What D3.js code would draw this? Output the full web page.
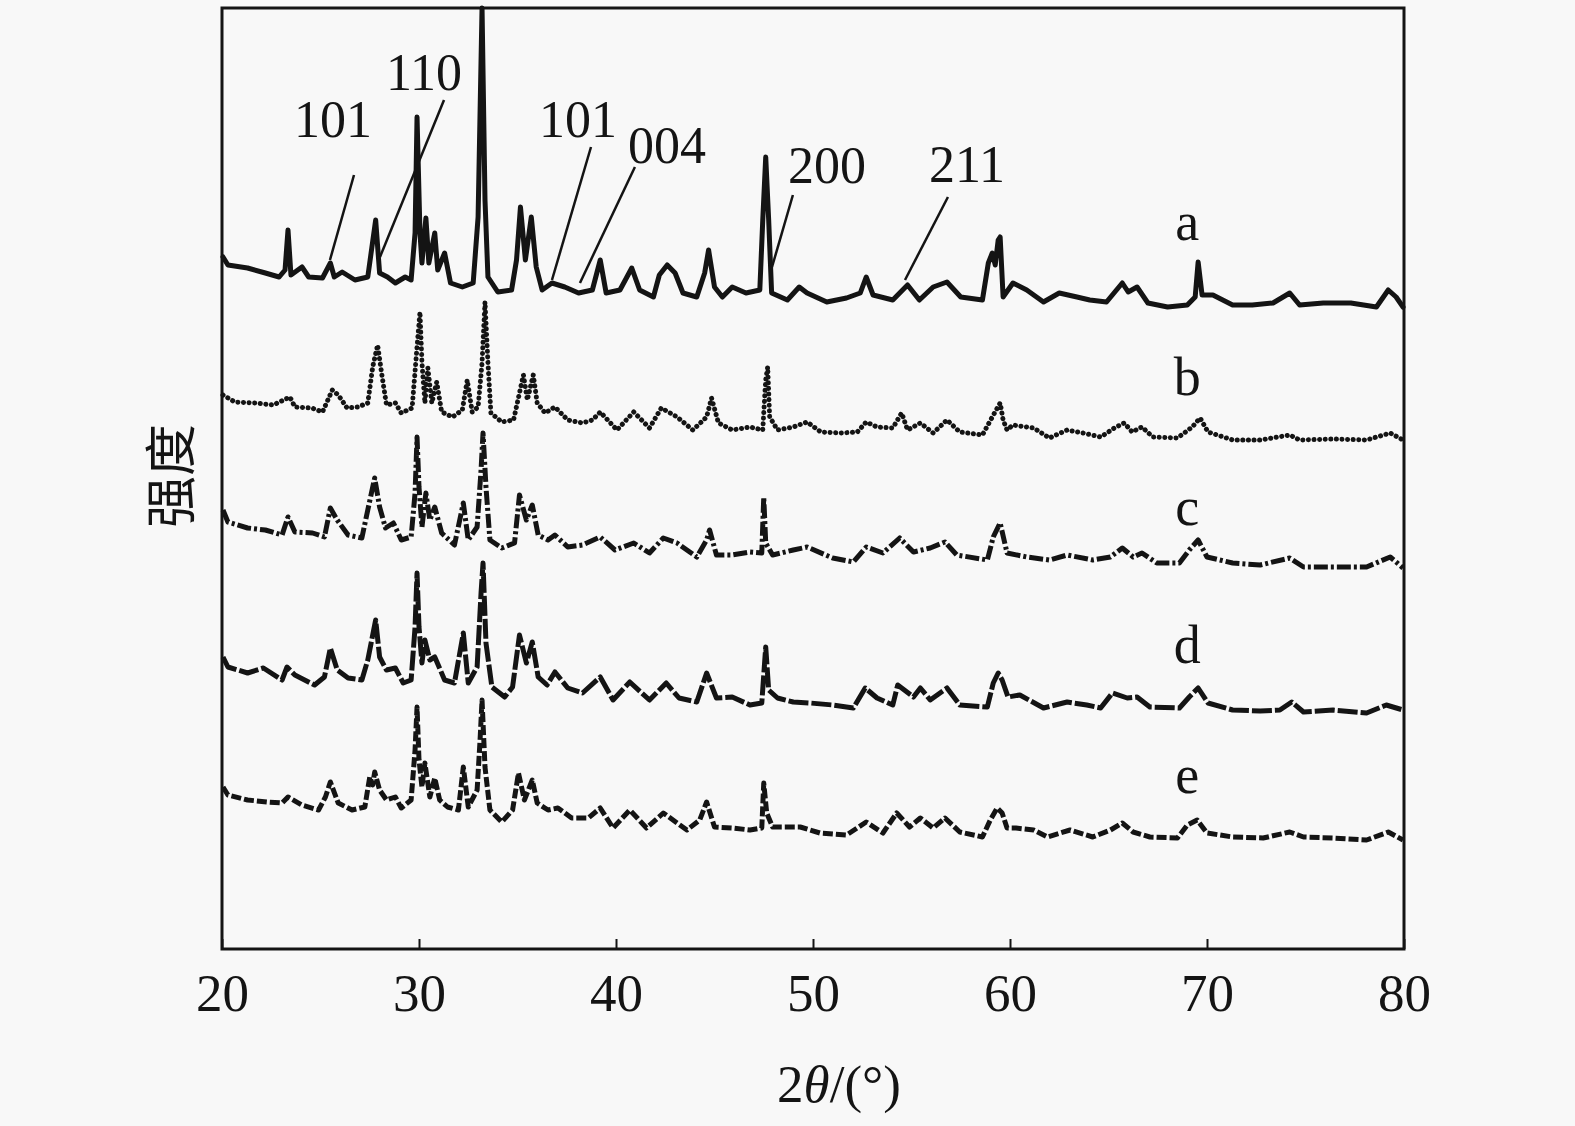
<!DOCTYPE html>
<html>
<head>
<meta charset="utf-8">
<script src="https://cdn.jsdelivr.net/npm/d3@7"></script>
<style>
  html, body { margin: 0; padding: 0; background: #f8f8f8; }
  svg { display: block; }
</style>
</head>
<body>
<script>
(function () {
  // 2θ (deg), intensity above each pattern's offset
  var seriesA = [
    [20.05, 53], [20.3, 45], [21.3, 42], [22.2, 37], [22.9, 33], [23.2, 40], [23.35, 80], [23.5, 35],
    [24.06, 43], [24.4, 33], [25.1, 32], [25.5, 47], [25.7, 33], [26.1, 38], [26.75, 30], [27.4, 33],
    [27.8, 90], [28.0, 37], [28.4, 33], [28.8, 27], [29.3, 33], [29.6, 30], [29.8, 77], [29.9, 193],
    [30.05, 77], [30.15, 47], [30.35, 92], [30.5, 47], [30.8, 77], [30.95, 40], [31.3, 57], [31.6, 27],
    [32.2, 23], [32.75, 27], [33.0, 93], [33.2, 302], [33.35, 110], [33.5, 33], [34.0, 18], [34.7, 20],
    [34.95, 50], [35.15, 103], [35.4, 50], [35.7, 93], [35.95, 43], [36.25, 20], [36.75, 27], [37.4, 23],
    [38.1, 17], [38.8, 20], [39.2, 50], [39.5, 17], [40.2, 20], [40.8, 42], [41.2, 20], [41.9, 13],
    [42.2, 35], [42.6, 45], [43.0, 37], [43.4, 17], [44.1, 13], [44.5, 37], [44.7, 60], [45.0, 23],
    [45.4, 13], [45.9, 23], [46.6, 17], [47.3, 20], [47.45, 90], [47.6, 153], [47.75, 90], [47.9, 17],
    [48.7, 10], [49.3, 23], [49.7, 17], [50.7, 8], [51.7, 12], [52.4, 17], [52.7, 33], [53.05, 15],
    [54.05, 10], [54.8, 25], [55.4, 10], [56.1, 23], [56.8, 28], [57.5, 13], [58.6, 10], [58.9, 47],
    [59.1, 57], [59.25, 45], [59.4, 70], [59.5, 73], [59.65, 13], [60.15, 27], [60.85, 20], [61.7, 8],
    [62.5, 17], [63.4, 13], [64.05, 10], [64.9, 8], [65.7, 27], [66.0, 18], [66.45, 23], [67.0, 7],
    [68.0, 3], [69.0, 5], [69.4, 13], [69.55, 48], [69.75, 15], [70.3, 15], [71.3, 5], [72.3, 5],
    [73.35, 7], [74.2, 17], [74.7, 5], [75.9, 7], [77.3, 7], [78.6, 3], [79.2, 20], [79.6, 13], [79.95, 3]
  ];
  var seriesB = [
    [20.05, 50], [20.65, 43], [21.7, 42], [22.6, 40], [23.45, 48], [23.7, 38], [24.55, 37], [25.1, 33],
    [25.6, 55], [25.9, 50], [26.35, 37], [26.9, 38], [27.4, 42], [27.65, 78], [27.9, 100], [28.1, 72],
    [28.35, 40], [28.8, 42], [29.1, 32], [29.65, 37], [29.9, 98], [30.05, 133], [30.15, 82], [30.3, 42],
    [30.45, 77], [30.65, 42], [30.9, 63], [31.15, 33], [31.7, 28], [32.2, 35], [32.45, 65], [32.7, 33],
    [33.0, 38], [33.2, 82], [33.35, 143], [33.5, 82], [33.65, 32], [34.2, 23], [34.8, 25], [35.1, 52],
    [35.3, 70], [35.5, 45], [35.8, 70], [36.0, 42], [36.4, 32], [36.9, 38], [37.55, 25], [38.3, 22],
    [38.8, 25], [39.2, 33], [40.05, 15], [40.9, 33], [41.7, 17], [42.3, 37], [43.1, 28], [43.9, 15],
    [44.6, 28], [44.85, 47], [45.2, 22], [45.9, 15], [46.8, 18], [47.45, 15], [47.6, 65], [47.7, 78],
    [47.8, 28], [48.2, 15], [49.0, 18], [49.7, 23], [50.4, 13], [51.4, 12], [52.25, 13], [52.7, 23],
    [53.25, 18], [54.05, 17], [54.5, 32], [54.8, 15], [55.45, 22], [56.1, 12], [56.8, 25], [57.45, 13],
    [58.6, 10], [59.1, 28], [59.5, 42], [59.65, 25], [59.85, 15], [60.15, 20], [61.2, 17], [62.0, 7],
    [62.9, 15], [63.7, 12], [64.6, 8], [65.3, 17], [65.8, 22], [66.2, 13], [66.7, 18], [67.25, 8],
    [68.5, 7], [69.25, 18], [69.65, 27], [70.05, 13], [71.3, 5], [72.7, 5], [74.2, 10], [74.7, 5],
    [76.4, 6], [78.1, 5], [79.3, 12], [79.95, 5]
  ];
  var seriesC = [
    [20.05, 60], [20.3, 48], [21.3, 42], [22.2, 40], [23.05, 35], [23.35, 53], [23.7, 38], [24.6, 37],
    [25.2, 33], [25.5, 62], [25.85, 50], [26.4, 35], [27.1, 32], [27.4, 60], [27.75, 92], [28.0, 63],
    [28.3, 42], [28.7, 47], [29.1, 30], [29.6, 33], [29.8, 77], [29.9, 133], [30.0, 83], [30.15, 43],
    [30.35, 77], [30.55, 50], [30.8, 63], [31.15, 37], [31.8, 25], [32.25, 67], [32.5, 30], [32.95, 43],
    [33.15, 100], [33.25, 137], [33.4, 83], [33.6, 30], [34.2, 22], [34.85, 27], [35.1, 75], [35.45, 50],
    [35.75, 65], [36.05, 35], [36.55, 30], [36.9, 35], [37.55, 23], [38.3, 25], [39.2, 33], [39.95, 20],
    [40.9, 27], [41.7, 17], [42.4, 32], [43.1, 27], [44.1, 13], [44.6, 30], [44.75, 40], [45.1, 15],
    [45.9, 15], [46.8, 18], [47.4, 17], [47.5, 73], [47.6, 27], [47.95, 15], [49.0, 20], [49.7, 23],
    [51.0, 12], [52.05, 8], [52.7, 23], [53.55, 17], [54.4, 32], [55.1, 18], [55.95, 22], [56.7, 28],
    [57.3, 15], [58.85, 10], [59.15, 33], [59.5, 47], [59.85, 17], [60.85, 13], [62.0, 10], [62.9, 15],
    [64.2, 10], [65.1, 13], [65.7, 22], [66.25, 13], [66.7, 17], [67.45, 7], [68.6, 7], [69.1, 20],
    [69.55, 30], [70.0, 13], [71.3, 7], [72.7, 5], [74.2, 12], [74.9, 3], [76.4, 3], [78.1, 3],
    [79.3, 13], [79.95, 2]
  ];
  var seriesD = [
    [20.05, 58], [20.3, 48], [21.3, 42], [22.1, 47], [23.05, 35], [23.3, 48], [23.7, 40], [24.7, 30],
    [25.2, 38], [25.5, 67], [25.85, 45], [26.4, 37], [27.1, 35], [27.4, 55], [27.8, 95], [28.0, 58],
    [28.35, 45], [28.8, 47], [29.2, 32], [29.6, 35], [29.8, 88], [29.9, 142], [30.0, 88], [30.15, 52],
    [30.3, 75], [30.55, 55], [30.8, 58], [31.3, 35], [31.8, 32], [32.25, 82], [32.5, 32], [32.95, 48],
    [33.15, 122], [33.25, 152], [33.4, 72], [33.7, 28], [34.35, 18], [34.75, 28], [35.1, 80], [35.45, 52],
    [35.75, 73], [36.05, 38], [36.5, 30], [36.9, 43], [37.55, 27], [38.3, 22], [39.2, 38], [39.85, 15],
    [40.7, 33], [41.7, 15], [42.55, 32], [43.2, 17], [44.1, 13], [44.6, 42], [45.1, 17], [45.9, 18],
    [46.8, 10], [47.4, 12], [47.6, 68], [47.75, 25], [48.2, 17], [49.0, 13], [49.85, 12], [51.0, 10],
    [52.05, 7], [52.65, 27], [53.25, 17], [54.05, 10], [54.3, 30], [55.1, 18], [55.45, 27], [55.95, 15],
    [56.8, 27], [57.45, 10], [58.85, 8], [59.15, 32], [59.4, 42], [59.6, 35], [59.9, 18], [60.5, 20],
    [61.7, 7], [62.9, 13], [63.9, 10], [64.6, 7], [65.2, 22], [65.95, 17], [66.45, 18], [67.1, 8],
    [68.6, 7], [69.1, 18], [69.55, 27], [70.05, 12], [71.3, 5], [72.7, 4], [73.7, 5], [74.3, 13],
    [74.9, 3], [76.4, 5], [78.1, 2], [79.1, 10], [79.95, 5]
  ];
  var seriesE = [
    [20.05, 58], [20.3, 50], [21.3, 45], [22.3, 43], [23.05, 42], [23.35, 48], [24.05, 40], [24.9, 35],
    [25.25, 48], [25.5, 63], [25.9, 42], [26.6, 35], [27.25, 38], [27.5, 68], [27.65, 60], [27.75, 73],
    [28.0, 55], [28.35, 45], [28.8, 48], [29.1, 37], [29.6, 45], [29.8, 95], [29.9, 138], [30.0, 85],
    [30.15, 58], [30.3, 82], [30.55, 48], [30.8, 67], [31.05, 45], [31.45, 38], [32.0, 35], [32.25, 78],
    [32.5, 38], [32.95, 55], [33.1, 105], [33.2, 145], [33.35, 78], [33.6, 35], [34.2, 23], [34.75, 35],
    [35.05, 72], [35.35, 45], [35.75, 65], [36.0, 42], [36.55, 35], [37.05, 37], [37.75, 27], [38.6, 27],
    [39.2, 37], [39.85, 17], [40.7, 35], [41.55, 17], [42.4, 32], [43.6, 15], [44.25, 25], [44.6, 43],
    [45.0, 18], [45.9, 17], [46.8, 15], [47.4, 17], [47.5, 62], [47.65, 32], [47.95, 18], [49.35, 18],
    [50.35, 12], [51.7, 10], [52.7, 23], [53.55, 12], [54.25, 32], [54.9, 18], [55.45, 27], [56.1, 17],
    [56.7, 27], [57.45, 13], [58.6, 8], [59.0, 25], [59.35, 37], [59.6, 32], [59.85, 17], [60.3, 17],
    [61.2, 15], [61.9, 8], [63.05, 15], [64.2, 8], [65.1, 15], [65.7, 22], [66.25, 13], [67.1, 8],
    [68.5, 7], [69.0, 20], [69.5, 25], [70.0, 12], [71.3, 8], [72.85, 7], [74.2, 13], [74.9, 8],
    [76.4, 7], [78.1, 5], [79.2, 13], [79.95, 5]
  ];

  var seriesNames = ['a', 'b', 'c', 'd', 'e'];
  var seriesOffsets = [639, 504, 379, 234, 104];
  var xTicks = [20, 30, 40, 50, 60, 70, 80];

  // peak indices: label text, label position, leader line start and end (2θ, height)
  var peakText = ['101', '110', '101', '004', '200', '211'];
  var peakLabelAt = [[25.63, 812], [30.25, 859], [38.07, 812], [42.59, 786], [50.71, 766], [57.82, 767]];
  var peakLineFrom = [[26.70, 774], [31.27, 849], [38.73, 802], [40.96, 782], [48.98, 754], [56.85, 752]];
  var peakLineTo = [[25.48, 689], [28.02, 692], [36.75, 669], [38.17, 666], [47.92, 682], [54.67, 669]];

  var width = 1575,
    height = 1126,
    left = 222,
    right = 1404,
    top = 8,
    bottom = 949,
    ink = '#141414',
    serif = '"Liberation Serif", "Times New Roman", serif';

  var allSeries = [seriesA, seriesB, seriesC, seriesD, seriesE];
  var dashes = ['none', '0.1 5.5', '14 3 3 3', '20 3', '10 3'];
  var caps = ['round', 'round', 'butt', 'butt', 'butt'];
  var widths = [5, 5, 5, 5, 5];

  var x = d3.scaleLinear().domain([20, 80]).range([left, right]);
  var y = d3.scaleLinear().domain([0, bottom - top]).range([bottom, top]);

  var svg = d3.select('body')
    .append('svg')
    .attr('width', width)
    .attr('height', height);

  // patterns
  allSeries.forEach(function (data, i) {
    var line = d3.line()
      .x(function (d) { return x(d[0]); })
      .y(function (d) { return y(seriesOffsets[i] + d[1]); });

    svg.append('path')
      .datum(data)
      .attr('d', line)
      .attr('fill', 'none')
      .attr('stroke', ink)
      .attr('stroke-width', widths[i])
      .attr('stroke-linejoin', 'round')
      .attr('stroke-linecap', caps[i])
      .attr('stroke-dasharray', dashes[i]);
  });

  // series letters
  svg.selectAll('text.series')
    .data(seriesNames)
    .enter()
    .append('text')
    .attr('class', 'series')
    .attr('x', x(69))
    .attr('y', function (d, i) { return [240, 395, 525, 663, 793][i]; })
    .attr('text-anchor', 'middle')
    .style('font-family', serif)
    .style('font-size', '54px')
    .attr('fill', ink)
    .text(function (d) { return d; });

  // peak annotations
  peakText.forEach(function (t, i) {
    svg.append('line')
      .attr('x1', x(peakLineFrom[i][0]))
      .attr('y1', y(peakLineFrom[i][1]))
      .attr('x2', x(peakLineTo[i][0]))
      .attr('y2', y(peakLineTo[i][1]))
      .attr('stroke', ink)
      .attr('stroke-width', 2.5);
    svg.append('text')
      .attr('x', x(peakLabelAt[i][0]))
      .attr('y', y(peakLabelAt[i][1]))
      .attr('text-anchor', 'middle')
      .style('font-family', serif)
      .style('font-size', '52px')
      .attr('fill', ink)
      .text(t);
  });

  // frame
  svg.append('rect')
    .attr('x', left)
    .attr('y', top)
    .attr('width', right - left)
    .attr('height', bottom - top)
    .attr('fill', 'none')
    .attr('stroke', ink)
    .attr('stroke-width', 3);

  var axis = d3.axisBottom(x)
    .tickValues(xTicks)
    .tickSizeInner(-10)
    .tickSizeOuter(0)
    .tickPadding(24);

  var gx = svg.append('g')
    .attr('transform', 'translate(0,' + bottom + ')')
    .call(axis);
  gx.select('.domain').remove();
  gx.selectAll('.tick line').attr('stroke', ink).attr('stroke-width', 2);
  gx.selectAll('.tick text')
    .attr('fill', ink)
    .style('font-family', serif)
    .style('font-size', '53px');

  // axis titles
  var xt = svg.append('text')
    .attr('x', 839)
    .attr('y', 1102)
    .attr('text-anchor', 'middle')
    .style('font-family', serif)
    .style('font-size', '53px')
    .attr('fill', ink);
  xt.append('tspan').text('2');
  xt.append('tspan').style('font-style', 'italic').text('θ');
  xt.append('tspan').text('/(°)');

  svg.append('text')
    .attr('transform', 'translate(190,476) rotate(-90)')
    .attr('text-anchor', 'middle')
    .style('font-family', '"Noto Sans CJK SC", sans-serif')
    .style('font-size', '52px')
    .attr('fill', ink)
    .text('强度');
}());
</script>
</body>
</html>
